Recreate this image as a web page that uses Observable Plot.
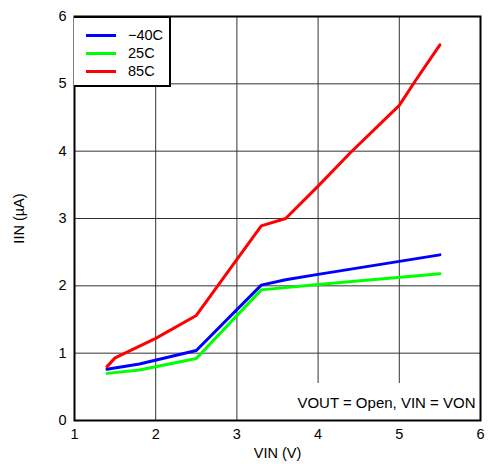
<!DOCTYPE html>
<html>
<head>
<meta charset="utf-8">
<script src="https://cdn.jsdelivr.net/npm/d3@7"></script>
<script src="https://cdn.jsdelivr.net/npm/@observablehq/plot@0.6"></script>
<style>
  html, body { margin: 0; padding: 0; background: #fff; }
  #wrap { position: relative; width: 499px; height: 464px; font-family: "Liberation Sans", Arial, sans-serif; }
  #legend { position: absolute; left: 74px; top: 16px; border: 2px solid #000; border-left-width: 0; background: #fff; box-sizing: border-box; width: 97px; height: 71px; }
  .li { position: absolute; left: 12px; height: 18px; font-size: 14.5px; line-height: 18px; }
  .li span.sw { position: absolute; left: 0; top: 8px; width: 30px; height: 3px; }
  .li span.tx { position: absolute; left: 42px; top: 0; white-space: nowrap; color: #000; }
</style>
</head>
<body>
<div id="wrap"></div>
<script>
const seriesNames = ["\u221240C", "25C", "85C"];
const seriesColors = ["#0000ff", "#00ff00", "#ff0000"];
const vinM40 = [1.4, 1.8, 2.5, 3.3, 3.6, 4.0, 5.5];
const iinM40 = [0.76, 0.84, 1.04, 2.01, 2.09, 2.17, 2.46];
const vin25 = [1.4, 1.8, 2.5, 3.3, 4.0, 5.5];
const iin25 = [0.70, 0.75, 0.92, 1.94, 2.02, 2.18];
const vin85 = [1.4, 1.5, 2.0, 2.5, 3.3, 3.6, 4.0, 4.4, 5.0, 5.2, 5.5];
const iin85 = [0.80, 0.93, 1.22, 1.56, 2.89, 3.00, 3.48, 3.98, 4.68, 5.05, 5.58];
const xTicks = [1, 2, 3, 4, 5, 6];
const yTicks = [0, 1, 2, 3, 4, 5, 6];
const note = "VOUT = Open, VIN = VON";

const data = [];
[[vinM40, iinM40], [vin25, iin25], [vin85, iin85]].forEach(([xs, ys], i) => {
  xs.forEach((x, j) => data.push({series: seriesNames[i], vin: x, iin: ys[j]}));
});

const FS = 14.5;
const chart = Plot.plot({
  width: 499,
  height: 464,
  marginLeft: 74,
  marginRight: 19,
  marginTop: 16,
  marginBottom: 44,
  style: {fontFamily: "Liberation Sans, Arial, sans-serif", fontSize: FS + "px", color: "#000", background: "#fff"},
  x: {domain: [1, 6]},
  y: {domain: [0, 6]},
  color: {domain: seriesNames, range: seriesColors},
  marks: [
    Plot.gridX(xTicks.slice(1, -1), {stroke: "#333", strokeOpacity: 1, strokeWidth: 1}),
    Plot.gridY(yTicks.slice(1, -1), {stroke: "#333", strokeOpacity: 1, strokeWidth: 1}),
    Plot.rect([note], {x1: 3.68, x2: 6, y1: 0, y2: 0.55, fill: "#fff"}),
    Plot.line(data, {x: "vin", y: "iin", z: "series", stroke: "series", strokeWidth: 3, strokeLinejoin: "round"}),
    Plot.text([note], {x: 6, y: 0, text: d => d, textAnchor: "end", dx: -5, dy: -17, fontSize: 15, fill: "#000"}),
    Plot.frame({stroke: "#000", strokeWidth: 2}),
    Plot.axisX({ticks: xTicks, tickFormat: "d", tickSize: 0, tickPadding: 8, fontSize: FS, label: "VIN (V)", labelAnchor: "center", labelOffset: 37, labelArrow: "none"}),
    Plot.axisY({ticks: yTicks, tickFormat: "d", tickSize: 0, tickPadding: 8, fontSize: FS, label: "IIN (\u00b5A)", labelAnchor: "center", labelOffset: 61, labelArrow: "none"})
  ]
});

const wrap = document.getElementById("wrap");
wrap.appendChild(chart);

const legend = document.createElement("div");
legend.id = "legend";
seriesNames.forEach((name, i) => {
  const li = document.createElement("div");
  li.className = "li";
  li.style.top = (8 + i * 18) + "px";
  const sw = document.createElement("span");
  sw.className = "sw";
  sw.style.background = seriesColors[i];
  const tx = document.createElement("span");
  tx.className = "tx";
  tx.textContent = name;
  li.appendChild(sw);
  li.appendChild(tx);
  legend.appendChild(li);
});
wrap.appendChild(legend);
</script>
</body>
</html>
